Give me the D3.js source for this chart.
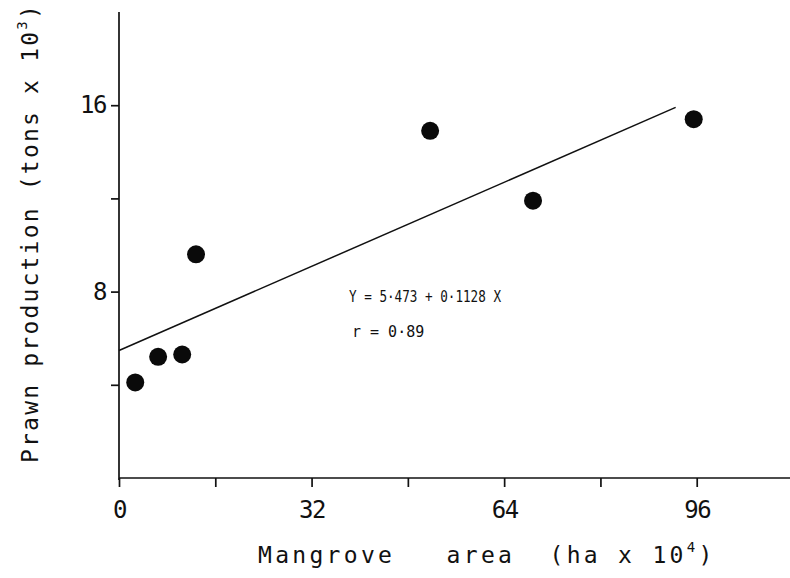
<!DOCTYPE html>
<html>
<head>
<meta charset="utf-8">
<script src="https://cdn.jsdelivr.net/npm/d3@7"></script>
<style>
  body { margin: 0; background: #fff; }
  svg { display: block; }
  text { font-family: "DejaVu Sans Mono", monospace; fill: #111; white-space: pre; }
</style>
</head>
<body>
<svg id="chart" width="790" height="578"></svg>
<script>
// mangrove area (ha x 10^4) vs prawn production (tons x 10^3)
var mangroveArea = [2.7, 6.5, 10.5, 12.8, 51.7, 68.8, 95.5];
var prawnProduction = [4.1, 5.2, 5.3, 9.6, 14.9, 11.9, 15.4];
var xTickValues = [0, 16, 32, 48, 64, 80, 96];
var xTickLabels = ["0", "", "32", "", "64", "", "96"];
var yTickValues = [4, 8, 12, 16];
var yTickLabels = ["", "8", "", "16"];
var intercept = 5.473,
  slope = 0.1128,
  fitRange = [0, 92.5];

var svg = d3.select("#chart");

var x = d3.scaleLinear().domain([0, 112]).range([119, 793]);
var y = d3.scaleLinear().domain([0, 20]).range([478, 12]);

// axes
var xAxis = svg
  .append("g")
  .attr("transform", "translate(0," + y(0) + ")")
  .call(
    d3
      .axisBottom(x)
      .tickValues(xTickValues)
      .tickSize(9)
      .tickPadding(14)
      .tickFormat(function (d, i) {
        return xTickLabels[i];
      })
  );
xAxis.select(".domain").attr("d", "M" + x(0) + ",0H790");

var yAxis = svg
  .append("g")
  .attr("transform", "translate(" + x(0) + ",0)")
  .call(
    d3
      .axisLeft(y)
      .tickValues(yTickValues)
      .tickSize(8)
      .tickPadding(5)
      .tickFormat(function (d, i) {
        return yTickLabels[i];
      })
  );
yAxis.select(".domain").attr("d", "M0," + y(20) + "V" + (y(0) + 2));

svg.selectAll(".domain, .tick line").attr("stroke", "#111").attr("stroke-width", 1.7);
svg
  .selectAll(".tick text")
  .style("font-family", "DejaVu Sans Mono")
  .style("font-size", "24px")
  .style("letter-spacing", "-1.5px")
  .attr("fill", "#111");

// regression line
var line = d3
  .line()
  .x(function (d) { return x(d); })
  .y(function (d) { return y(intercept + slope * d); });
svg
  .append("path")
  .datum(fitRange)
  .attr("d", line)
  .attr("fill", "none")
  .attr("stroke", "#111")
  .attr("stroke-width", 1.5);

// points
svg
  .selectAll(".pt")
  .data(mangroveArea)
  .enter()
  .append("circle")
  .attr("class", "pt")
  .attr("cx", function (d) { return x(d); })
  .attr("cy", function (d, i) { return y(prawnProduction[i]); })
  .attr("r", 9)
  .attr("fill", "#0a0a0a");

// equation text
svg
  .append("text")
  .attr("x", 349)
  .attr("y", 302)
  .style("font-size", "15px")
  .attr("textLength", 152)
  .attr("lengthAdjust", "spacingAndGlyphs")
  .text("Y = 5·473 + 0·1128 X");
svg
  .append("text")
  .attr("x", 352)
  .attr("y", 337)
  .style("font-size", "15px")
  .text("r = 0·89");

// axis titles
var xt = svg
  .append("text")
  .attr("x", 258)
  .attr("y", 563)
  .style("font-size", "23px")
  .style("letter-spacing", "3.3px");
xt.append("tspan").text("Mangrove   area  (ha x 10");
xt.append("tspan").attr("dy", -11).style("font-size", "14px").text("4");
xt.append("tspan").attr("dy", 11).text(")");

var yt = svg
  .append("text")
  .attr("transform", "translate(38,463) rotate(-90)")
  .style("font-size", "23px")
  .style("letter-spacing", "2.2px");
yt.append("tspan").text("Prawn production (tons x 10");
yt.append("tspan").attr("dy", -11).style("font-size", "14px").text("3");
yt.append("tspan").attr("dy", 11).text(")");
</script>
</body>
</html>
